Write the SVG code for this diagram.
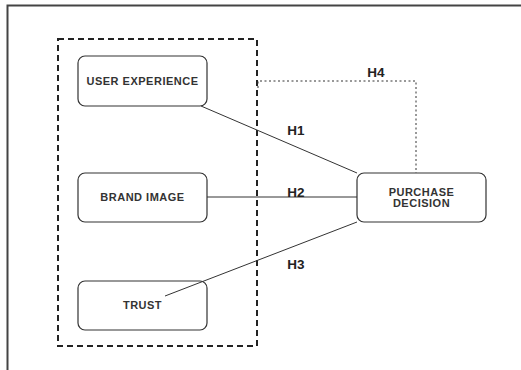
<svg xmlns="http://www.w3.org/2000/svg" width="521" height="370" viewBox="0 0 521 370">
<style>
.node rect{fill:#fff;stroke:#333;stroke-width:1.2}
.node text{font-family:"Liberation Sans",Arial,sans-serif;font-weight:bold;font-size:11px;fill:#333;text-anchor:middle;letter-spacing:0.5px}
.conn{stroke:#333;stroke-width:1;fill:none}
.lbl{font-family:"Liberation Sans",Arial,sans-serif;font-weight:bold;font-size:13.5px;fill:#222;text-anchor:middle}
</style>
<rect width="521" height="370" fill="#fff"/>
<path d="M7.5 370 V5.5 H521" fill="none" stroke="#444" stroke-width="2"/>
<rect id="group" x="58" y="39" width="199" height="307" fill="none" stroke="#222" stroke-width="2" stroke-dasharray="6,4"/>
<g id="user-experience" class="node">
<rect x="78" y="56" width="129" height="50" rx="7"/>
<text x="142.5" y="85">USER EXPERIENCE</text>
</g>
<g id="brand-image" class="node">
<rect x="78" y="173" width="129" height="49" rx="7"/>
<text x="142.5" y="201">BRAND IMAGE</text>
</g>
<g id="trust" class="node">
<rect x="78" y="281" width="129" height="49" rx="7"/>
<text x="142.5" y="309">TRUST</text>
</g>
<g id="purchase-decision" class="node">
<rect x="357" y="173" width="129" height="49" rx="7"/>
<text x="421.5" y="196">PURCHASE</text>
<text x="421.5" y="207">DECISION</text>
</g>
<g id="connectors">
<line class="conn" x1="201" y1="106" x2="357" y2="173"/>
<line class="conn" x1="207" y1="197" x2="357" y2="197"/>
<line class="conn" x1="165" y1="296" x2="357" y2="222"/>
<path class="conn" d="M258 88 V81 H416 V173" stroke-dasharray="2,2.5" stroke-width="1.2" stroke="#555"/>
<text class="lbl" x="376" y="77">H4</text>
<text class="lbl" x="296" y="135">H1</text>
<text class="lbl" x="296" y="197">H2</text>
<text class="lbl" x="296" y="269">H3</text>
</g>
</svg>
